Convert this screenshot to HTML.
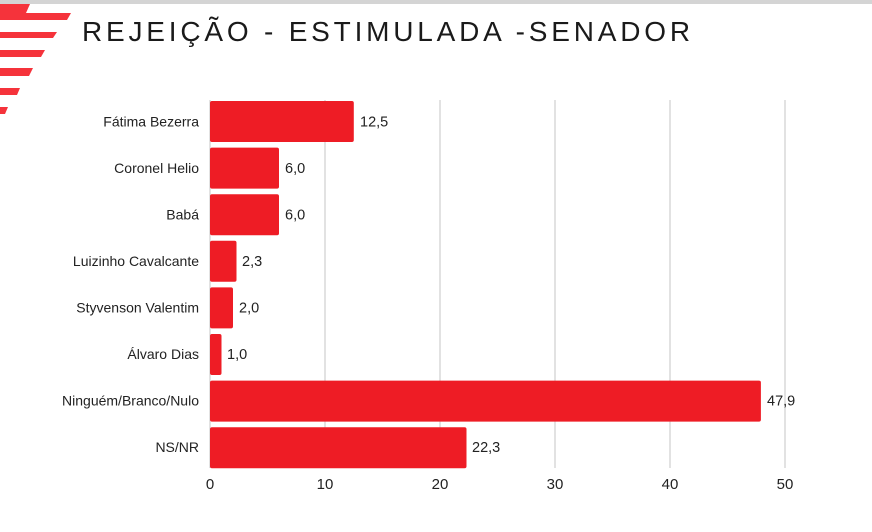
<!DOCTYPE html>
<html><head><meta charset="utf-8"><style>
body{margin:0;width:872px;height:532px;background:#fff;overflow:hidden;position:relative;font-family:"Liberation Sans",sans-serif}
</style></head><body>
<svg width="872" height="532" style="position:absolute;left:0;top:0">
<rect x="0" y="0" width="872" height="4" fill="#d4d4d4"/>
<g fill="#f5333b">
<polygon points="0,4 30,4 26,13 0,13"/>
<polygon points="0,13 71,13 67,20 0,20"/>
<polygon points="0,32 57,32 53,38 0,38"/>
<polygon points="0,50 45,50 41,57 0,57"/>
<polygon points="0,68 33,68 29,76 0,76"/>
<polygon points="0,88 20,88 17,95 0,95"/>
<polygon points="0,107 8,107 5,114 0,114"/>
</g>
<text x="82" y="41" font-size="28" fill="#1a1a1a" letter-spacing="3.8" font-family="Liberation Sans, sans-serif">REJEIÇÃO - ESTIMULADA -SENADOR</text>
<g stroke="#d9d9d9" stroke-width="1.5">
<line x1="325" y1="100" x2="325" y2="468"/>
<line x1="440" y1="100" x2="440" y2="468"/>
<line x1="555" y1="100" x2="555" y2="468"/>
<line x1="670" y1="100" x2="670" y2="468"/>
<line x1="785" y1="100" x2="785" y2="468"/>
<line x1="210" y1="100" x2="210" y2="468"/>
</g>
<g fill="#ee1c25">
<rect x="210" y="101" width="143.8" height="41" rx="2"/>
<rect x="210" y="147.6" width="69" height="41" rx="2"/>
<rect x="210" y="194.2" width="69" height="41" rx="2"/>
<rect x="210" y="240.8" width="26.5" height="41" rx="2"/>
<rect x="210" y="287.4" width="23" height="41" rx="2"/>
<rect x="210" y="334" width="11.5" height="41" rx="2"/>
<rect x="210" y="380.6" width="550.9" height="41" rx="2"/>
<rect x="210" y="427.2" width="256.5" height="41" rx="2"/>
</g>
<g font-size="14" fill="#222" text-anchor="end">
<text x="199" y="126.5">Fátima Bezerra</text>
<text x="199" y="173">Coronel Helio</text>
<text x="199" y="219.5">Babá</text>
<text x="199" y="266">Luizinho Cavalcante</text>
<text x="199" y="312.5">Styvenson Valentim</text>
<text x="199" y="359">Álvaro Dias</text>
<text x="199" y="405.5">Ninguém/Branco/Nulo</text>
<text x="199" y="452">NS/NR</text>
</g>
<g font-size="14.5" fill="#222">
<text x="360" y="126.5">12,5</text>
<text x="285" y="173">6,0</text>
<text x="285" y="219.5">6,0</text>
<text x="242" y="266">2,3</text>
<text x="239" y="312.5">2,0</text>
<text x="227" y="359">1,0</text>
<text x="767" y="405.5">47,9</text>
<text x="472" y="452">22,3</text>
</g>
<g font-size="15" fill="#222" text-anchor="middle">
<text x="210" y="489">0</text>
<text x="325" y="489">10</text>
<text x="440" y="489">20</text>
<text x="555" y="489">30</text>
<text x="670" y="489">40</text>
<text x="785" y="489">50</text>
</g>
</svg>
</body></html>
